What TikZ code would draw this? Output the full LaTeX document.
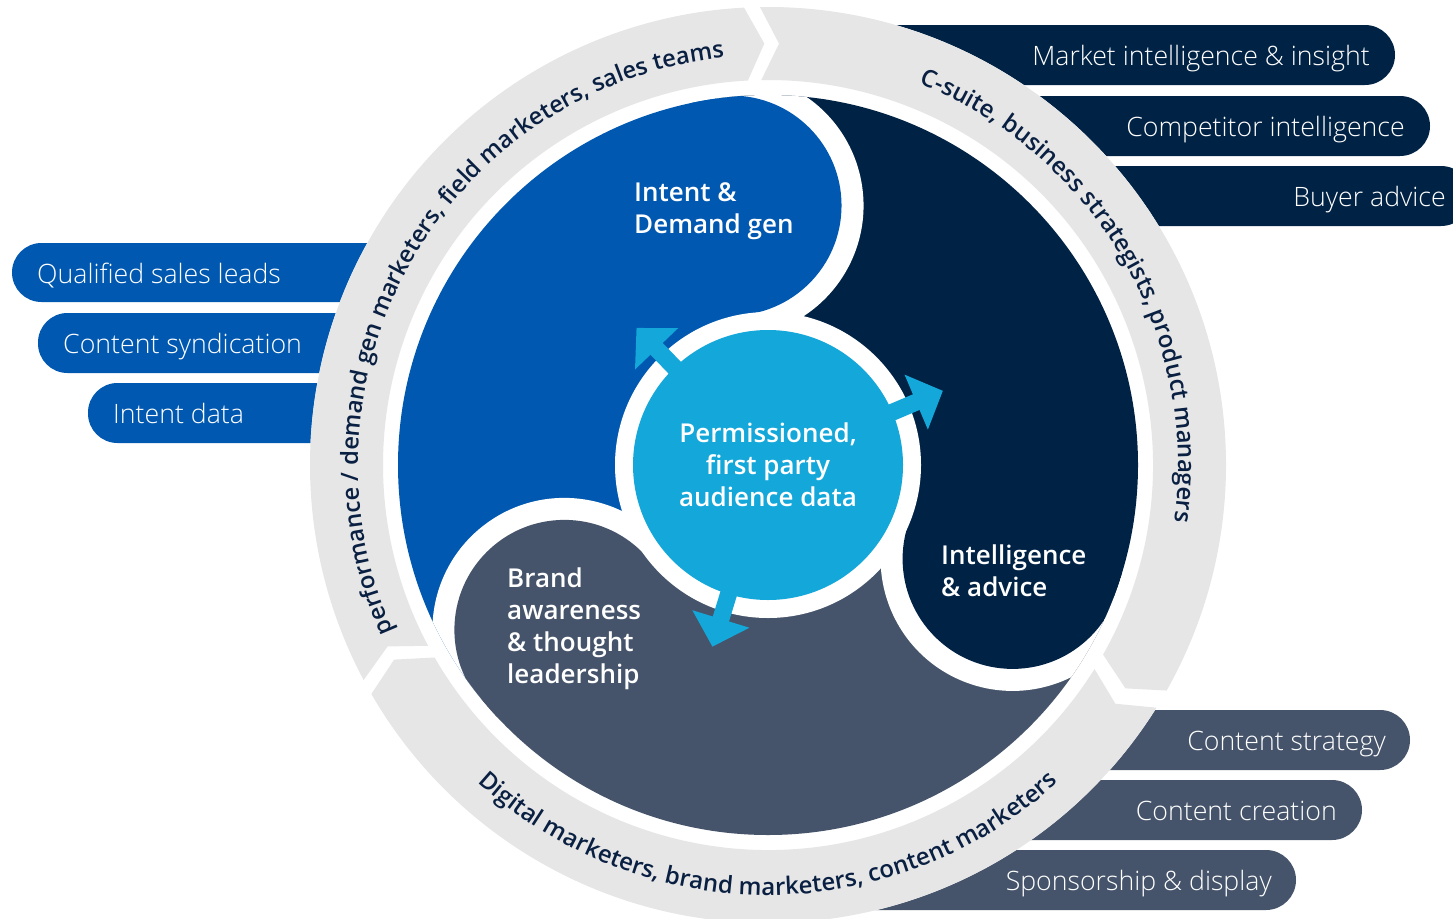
\documentclass[tikz,border=0pt]{standalone}
\usepackage{fontspec}
\setmainfont{Open Sans}
\IfFontExistsTF{Open Sans Semibold}{\newfontfamily\semib{Open Sans Semibold}}{\IfFontExistsTF{Open Sans SemiBold}{\newfontfamily\semib{Open Sans SemiBold}}{\newcommand\semib{\bfseries}}}
\IfFontExistsTF{Open Sans Light}{\newfontfamily\lightf{Open Sans Light}}{\newcommand\lightf{\relax}}
\usetikzlibrary{arrows.meta,decorations.text}
\definecolor{cblue}{RGB}{0,88,176}
\definecolor{cnavy}{RGB}{0,34,68}
\definecolor{cslate}{RGB}{69,84,106}
\definecolor{clight}{RGB}{19,167,218}
\definecolor{cring}{RGB}{230,230,230}
\definecolor{ctext}{RGB}{10,32,66}
\tikzset{
  pilltext/.style={text=white, font=\lightf\fontsize{26.7}{30}\selectfont, inner sep=0pt},
  lbl/.style={text=white, font=\semib\fontsize{26}{32}\selectfont, align=left, inner sep=0pt},
  flow/.style={draw=clight, line width=17pt, -{Triangle[length=29pt,width=58pt]}, shorten <=-6pt},
  ringtext/.style={decorate, decoration={text along path, text align=center, text color=ctext}}
}
\begin{document}
\begin{tikzpicture}[x=1pt,y=-1pt]
\useasboundingbox (0,0) rectangle (1453,918);
\clip (0,0) rectangle (1453,918);
% pills
\fill[cblue, rounded corners=29.5pt] (12,243) rectangle (700,302);
\fill[cblue, rounded corners=29.5pt] (38,313) rectangle (700,373);
\fill[cblue, rounded corners=29.5pt] (88,383) rectangle (700,443);
\fill[cnavy, rounded corners=30pt] (800,25) rectangle (1395,85);
\fill[cnavy, rounded corners=30pt] (800,96) rectangle (1430,156);
\fill[cnavy, rounded corners=30pt] (800,166) rectangle (1471,226);
\fill[cslate, rounded corners=30pt] (900,710) rectangle (1410,770);
\fill[cslate, rounded corners=30pt] (900,780) rectangle (1362,840);
\fill[cslate, rounded corners=30pt] (800,850) rectangle (1296,910);
\node[pilltext, anchor=base west] (p1) at (37,283) {Qualified sales leads};
\node[pilltext, anchor=base west] (p2) at (63,353) {Content syndication};
\node[pilltext, anchor=base west] (p3) at (113,423) {Intent data};
\node[pilltext, anchor=base east] (p4) at (1370,65) {Market intelligence \& insight};
\node[pilltext, anchor=base east] (p5) at (1405,136) {Competitor intelligence};
\node[pilltext, anchor=base east] (p6) at (1446,206) {Buyer advice};
\node[pilltext, anchor=base east] (p7) at (1386,750) {Content strategy};
\node[pilltext, anchor=base east] (p8) at (1337,820) {Content creation};
\node[pilltext, anchor=base east] (p9) at (1272,890) {Sponsorship \& display};
% ring
\begin{scope}[shift={(768,465)}]
\fill[white] (0,0) circle[radius=458];
\fill[cring] (-208:458) arc[start angle=-208, end angle=-93, radius=458] -- (-90.5:421.5) -- (-93:385) arc[start angle=-93, end angle=-208, radius=385] -- (-205.5:421.5) -- cycle;
\fill[cring] (-91:458) arc[start angle=-91, end angle=29.5, radius=458] -- (32:421.5) -- (29.5:385) arc[start angle=29.5, end angle=-91, radius=385] -- (-88.5:421.5) -- cycle;
\fill[cring] (32:458) arc[start angle=32, end angle=150, radius=458] -- (152.5:421.5) -- (150:385) arc[start angle=150, end angle=32, radius=385] -- (34.5:421.5) -- cycle;
\path[ringtext, decoration={text={|\semib\fontsize{23.7}{24}\selectfont|performance / demand gen marketers, field marketers, sales teams}}] (-210:410) arc[start angle=-210, end angle=-90, radius=410];
\path[ringtext, decoration={text={|\semib\fontsize{24}{24}\selectfont|C-suite, business strategists, product managers}}] (-89.5:410) arc[start angle=-89.5, end angle=29, radius=410];
\path[ringtext, decoration={text={|\semib\fontsize{24}{24}\selectfont|Digital marketers, brand marketers, content marketers}}] (150:430) arc[start angle=150, end angle=30, radius=430];
% petals
\begin{scope}
\clip (0,0) circle[radius=370];
\fill[cblue] (0,0) -- (-219:400) arc[start angle=-219, end angle=-98, radius=400] -- cycle;
\fill[cnavy] (0,0) -- (-98:400) arc[start angle=-98, end angle=21, radius=400] -- cycle;
\fill[cslate] (0,0) -- (21:400) arc[start angle=21, end angle=141, radius=400] -- cycle;
\fill[white] (-98:262) ++(-98:132) arc[start angle=-98, end angle=82, radius=132] -- cycle;
\fill[cblue] (-98:262) circle[radius=110];
\fill[white] (21:262) ++(21:132) arc[start angle=21, end angle=201, radius=132] -- cycle;
\fill[cnavy] (21:262) circle[radius=110];
\fill[white] (141:262) ++(141:132) arc[start angle=141, end angle=321, radius=132] -- cycle;
\fill[cslate] (141:262) circle[radius=110];
\end{scope}
\fill[white] (0,0) circle[radius=153];
\end{scope}
% core
\node[circle, fill=clight, minimum size=270pt, inner sep=0pt, text=white, align=center, font=\semib\fontsize{26}{32}\selectfont] (core) at (768,465) {Permissioned,\\first party\\audience data};
\coordinate (tipA) at (636.5,327.9);
\coordinate (tipB) at (942.9,390.8);
\coordinate (tipC) at (712.4,646.7);
\draw[flow] (core) -- (tipA);
\draw[flow] (core) -- (tipB);
\draw[flow] (core) -- (tipC);
% labels
\node[lbl, anchor=west] (intent) at (634,211.6) {Intent \&\\Demand gen};
\node[lbl, anchor=west] (intel) at (941,571) {Intelligence\\\& advice};
\node[lbl, anchor=west] (brand) at (507,629) {Brand\\awareness\\\& thought\\leadership};
\end{tikzpicture}
\end{document}
